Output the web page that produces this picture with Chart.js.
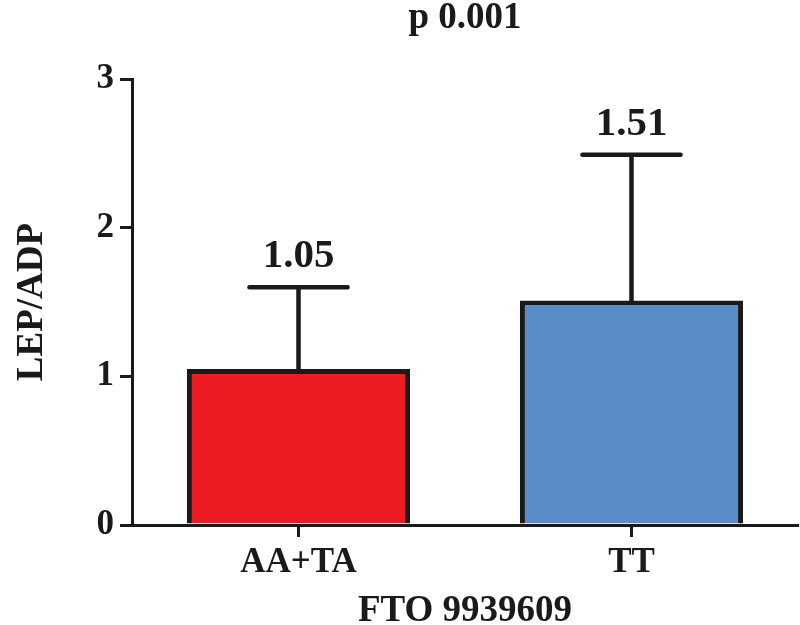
<!DOCTYPE html>
<html>
<head>
<meta charset="utf-8">
<script src="https://cdn.jsdelivr.net/npm/chart.js@4"></script>
<style>
  body { margin: 0; background: #fff; }
  #wrap { width: 800px; height: 625px; }
</style>
</head>
<body>
<div id="wrap"><canvas id="myChart"></canvas></div>
<script>
// data
const groups = ['AA+TA', 'TT'];
const means = [1.05, 1.51];
const sds = [0.55, 0.98];
const yTicks = [0, 1, 2, 3];
const pText = 'p 0.001';
const xTitle = 'FTO 9939609';

const ink = '#1a1a1a';
const serif = "'Liberation Serif', 'Times New Roman', serif";

// error bars, value labels, x tick marks, p-value title and x title
const errorBars = {
  id: 'errorBars',
  afterDatasetsDraw(chart) {
    const ctx = chart.ctx;
    const yScale = chart.scales.y;
    const xScale = chart.scales.x;
    const meta = chart.getDatasetMeta(0);
    const area = chart.chartArea;
    const midX = (area.left + area.right) / 2;
    ctx.save();
    ctx.strokeStyle = ink;
    ctx.fillStyle = ink;
    // x tick marks at the category centres
    ctx.lineWidth = 3;
    ctx.beginPath();
    groups.forEach(function (g, i) {
      const x = xScale.getPixelForValue(i);
      ctx.moveTo(x, area.bottom);
      ctx.lineTo(x, area.bottom + 12);
    });
    ctx.stroke();
    meta.data.forEach(function (bar, i) {
      const top = yScale.getPixelForValue(means[i] + sds[i]);
      const half = bar.width * 0.22;
      ctx.lineWidth = 4.5;
      ctx.lineCap = 'round';
      ctx.beginPath();
      ctx.moveTo(bar.x, bar.y);
      ctx.lineTo(bar.x, top);
      ctx.moveTo(bar.x - half, top);
      ctx.lineTo(bar.x + half, top);
      ctx.stroke();
      ctx.font = 'bold 41px ' + serif;
      ctx.textAlign = 'center';
      ctx.textBaseline = 'alphabetic';
      ctx.fillText(means[i].toFixed(2), bar.x, top - 20);
    });
    ctx.textAlign = 'center';
    ctx.textBaseline = 'alphabetic';
    ctx.font = 'bold 37px ' + serif;
    ctx.fillText(pText, midX, 28);
    ctx.fillText(xTitle, midX, 621);
    ctx.restore();
  }
};

const ctx = document.getElementById('myChart').getContext('2d');
const myChart = new Chart(ctx, {
  type: 'bar',
  data: {
    labels: groups,
    datasets: [{
      data: means,
      backgroundColor: ['#ED1C24', '#5A8DC8'],
      borderColor: ink,
      borderWidth: 5,
      borderSkipped: 'start',
      barPercentage: 0.67,
      categoryPercentage: 1
    }]
  },
  options: {
    responsive: true,
    maintainAspectRatio: false,
    animation: false,
    layout: { padding: { top: 79, right: 2, left: 0, bottom: 0 } },
    plugins: {
      legend: { display: false },
      tooltip: { enabled: false }
    },
    scales: {
      x: {
        afterFit(scale) { scale.height = 100; },
        border: { color: ink, width: 3 },
        grid: { display: false },
        ticks: { color: ink, font: { family: serif, size: 35, weight: 'bold' }, padding: 9 }
      },
      y: {
        min: 0,
        max: 3,
        afterFit(scale) { scale.width = 132; },
        afterBuildTicks(scale) { scale.ticks = yTicks.map(v => ({ value: v })); },
        border: { color: ink, width: 3 },
        grid: { drawOnChartArea: false, color: ink, lineWidth: 3, tickLength: 12 },
        ticks: { color: ink, font: { family: serif, size: 35, weight: 'bold' }, padding: 6 },
        title: {
          display: true, text: 'LEP/ADP', color: ink,
          font: { family: serif, size: 37, weight: 'bold' }, padding: { top: 10, bottom: 0 }
        }
      }
    }
  },
  plugins: [errorBars]
});
</script>
</body>
</html>
